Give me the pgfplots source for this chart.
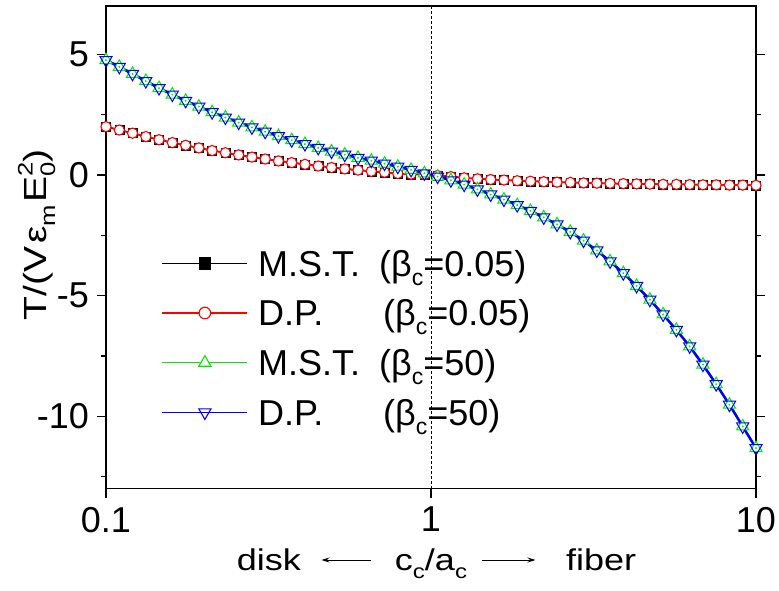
\documentclass[border=0pt]{standalone}
\usepackage{fontspec}
\setmainfont{Liberation Sans}
\usepackage{pgfplots}
\pgfplotsset{compat=1.18}
\usepackage{pgfplotstable}
\usetikzlibrary{arrows.meta}

\definecolor{mstgreen}{RGB}{0,235,0}
\definecolor{dpblue}{RGB}{0,0,255}
\definecolor{dpred}{RGB}{255,0,0}

% sub/superscripts for the 36pt legend and the axis titles
\newcommand\lsub[1]{\raisebox{-9pt}{\fontsize{23}{23}\selectfont #1}}
\newcommand\asub[1]{\raisebox{-8pt}{\fontsize{20}{20}\selectfont #1}}
\newcommand\ysub[1]{\raisebox{-8.5pt}{\fontsize{21}{21}\selectfont #1}}
\newcommand\ysup[1]{\raisebox{14pt}{\fontsize{21}{21}\selectfont #1}}
\newcommand\wide[1]{\scalebox{1.2}[1]{#1}}
\newcommand\arrowL{\tikz[baseline=-10.7pt]\draw[line width=1pt,{Stealth[length=8pt,width=5pt]}-](0,0)--(50pt,0);}
\newcommand\arrowR{\tikz[baseline=-10.7pt]\draw[line width=1pt,-{Stealth[length=8pt,width=5pt]}](0,0)--(53pt,0);}

% torque vs aspect ratio c_c/a_c
% mstA, dpA: beta_c = 0.05 ; mstB, dpB: beta_c = 50
\pgfplotstableread{
x       mstA    dpA     mstB     dpB
0.1000  2.00    2.00    4.76     4.76
0.1099  1.86    1.86    4.48     4.48
0.1207  1.73    1.73    4.19     4.19
0.1326  1.59    1.59    3.89     3.89
0.1456  1.46    1.46    3.60     3.60
0.1600  1.34    1.34    3.33     3.33
0.1758  1.23    1.23    3.07     3.07
0.1931  1.12    1.12    2.83     2.83
0.2121  1.01    1.01    2.60     2.60
0.2330  0.92    0.92    2.38     2.38
0.2560  0.83    0.83    2.17     2.17
0.2812  0.74    0.74    1.97     1.97
0.3089  0.66    0.66    1.79     1.79
0.3393  0.58    0.58    1.61     1.61
0.3728  0.51    0.51    1.44     1.44
0.4095  0.44    0.44    1.28     1.28
0.4498  0.37    0.37    1.12     1.12
0.4942  0.31    0.31    0.97     0.97
0.5429  0.25    0.25    0.84     0.84
0.5964  0.20    0.20    0.71     0.71
0.6551  0.15    0.15    0.59     0.59
0.7197  0.11    0.11    0.47     0.47
0.7906  0.06    0.06    0.34     0.34
0.8685  0.03    0.03    0.21     0.21
0.9541  0.01    0.01    0.07     0.07
1.0481  -0.02   -0.02   -0.07    -0.07
1.1514  -0.07   -0.07   -0.22    -0.22
1.2649  -0.12   -0.12   -0.40    -0.40
1.3895  -0.16   -0.16   -0.60    -0.60
1.5264  -0.19   -0.19   -0.81    -0.81
1.6768  -0.21   -0.21   -1.02    -1.02
1.8421  -0.24   -0.24   -1.25    -1.25
2.0236  -0.26   -0.26   -1.49    -1.49
2.2230  -0.28   -0.28   -1.76    -1.76
2.4421  -0.30   -0.30   -2.05    -2.05
2.6827  -0.31   -0.31   -2.36    -2.36
2.9471  -0.33   -0.33   -2.72    -2.72
3.2375  -0.34   -0.34   -3.13    -3.13
3.5565  -0.35   -0.35   -3.58    -3.58
3.9069  -0.36   -0.36   -4.07    -4.07
4.2919  -0.37   -0.37   -4.60    -4.60
4.7149  -0.38   -0.38   -5.17    -5.17
5.1795  -0.39   -0.39   -5.78    -5.78
5.6899  -0.39   -0.39   -6.42    -6.42
6.2506  -0.40   -0.40   -7.10    -7.10
6.8665  -0.41   -0.41   -7.86    -7.86
7.5431  -0.41   -0.41   -8.67    -8.67
8.2864  -0.42   -0.42   -9.52    -9.52
9.1030  -0.42   -0.42   -10.42   -10.42
10.000  -0.43   -0.43   -11.32   -11.32
}\torque

\begin{document}
\begin{tikzpicture}
\begin{axis}[
  scale only axis,
  width=650pt, height=482.7pt,
  xmode=log, log basis x=10,
  xmin=0.1, xmax=10, ymin=-13, ymax=7,
  xtick={0.1,1,10}, xticklabels={0.1,1,10},
  minor xtick={},
  ytick={-10,-5,0,5}, yticklabels={-10,-5,0,5},
  minor ytick={-12.5,-7.5,-2.5,2.5},
  xtick pos=left, ytick pos=both,
  tick align=outside,
  major tick length=9pt, minor tick length=5pt,
  every tick/.style={black, line width=1.2pt},
  axis line style={line width=1.5pt},
  tick label style={font=\fontsize{36}{36}\selectfont, inner sep=0pt},
  xticklabel style={yshift=-9pt},
  yticklabel style={xshift=-8pt},
  xlabel={\fontsize{30}{30}\selectfont\wide{disk}\hspace{20pt}\arrowL\hspace{23pt}\wide{c\asub{c}/a\asub{c}}\hspace{15pt}\arrowR\hspace{30pt}\wide{fiber}},
  xlabel style={at={(rel axis cs:0.5,0)}, anchor=base, yshift=-82pt, xshift=5.5pt, inner sep=0pt},
  ylabel={\fontsize{32}{32}\selectfont\scalebox{1.22}[1]{T/(V\hspace{2pt}ε\ysub{m}\hspace{2pt}E\rlap{\ysup{2}}\ysub{0})}},
  ylabel style={at={(rel axis cs:-0.0912,0.526)}, anchor=base, inner sep=0pt},
  legend image code/.code={\draw[mark repeat=2,mark phase=2,#1] plot coordinates {(0pt,0pt) (42.5pt,0pt) (85pt,0pt)};},
  legend cell align=left,
  legend style={at={(rel axis cs:0.0857,0.4945)}, anchor=north west,
    draw=none, fill=none, inner sep=0pt, outer sep=0pt,
    row sep=23.1pt, column sep=10pt,
    font=\fontsize{36}{36}\selectfont,
    nodes={inner sep=0pt, text height=26pt, text depth=0.6pt}},
]
% legend images
\addlegendimage{black, line width=1.4pt, mark=square*, mark size=5.6pt, mark options={solid, fill=black}}
\addlegendentry{\makebox[121pt][l]{M.S.T.}(β\lsub{c}=0.05)}
\addlegendimage{dpred, line width=1.4pt, mark=*, mark size=5.8pt, mark options={solid, draw=dpred, fill=white, line width=1.1pt}}
\addlegendentry{\makebox[125pt][l]{D.P.}(β\lsub{c}=0.05)}
\addlegendimage{mstgreen, line width=1.4pt, mark=triangle*, mark size=7pt, mark options={solid, draw=mstgreen, fill=white, line width=1.1pt}}
\addlegendentry{\makebox[121pt][l]{M.S.T.}(β\lsub{c}=50)}
\addlegendimage{dpblue, line width=1.4pt, mark=triangle, mark size=7pt, mark options={solid, rotate=180, line width=1.1pt}}
\addlegendentry{\makebox[125pt][l]{D.P.}(β\lsub{c}=50)}

% reference line at the sphere c_c = a_c
\addplot[forget plot, black, line width=0.6pt, dash pattern=on 3pt off 2pt] coordinates {(1,-13) (1,7)};

% curves
\addplot[forget plot, black, line width=1.5pt] table[x=x, y=mstA] {\torque};
\addplot[forget plot, dpred, line width=1.5pt] table[x=x, y=dpA] {\torque};
\addplot[forget plot, mstgreen, line width=2pt] table[x=x, y=mstB] {\torque};
\addplot[forget plot, dpblue, line width=2.5pt] table[x=x, y=dpB] {\torque};

% symbols
\addplot[forget plot, only marks, mark=square*, mark size=4.5pt, mark options={black, fill=black}] table[x=x, y=mstA] {\torque};
\addplot[forget plot, only marks, mark=*, mark size=5.1pt, mark options={draw=dpred, fill=white, line width=1.1pt}] table[x=x, y=dpA] {\torque};
\addplot[forget plot, only marks, mark=triangle*, mark size=7pt, mark options={draw=mstgreen, fill=white, line width=1pt}] table[x=x, y=mstB] {\torque};
\addplot[forget plot, only marks, mark=*, mark size=0.7pt, mark options={mstgreen}] table[x=x, y=mstB] {\torque};
\addplot[forget plot, only marks, mark=triangle, mark size=7pt, mark options={dpblue, rotate=180, line width=1pt}] table[x=x, y=dpB] {\torque};

\coordinate (bbsw) at (rel axis cs:0,0);
\coordinate (bbne) at (rel axis cs:1,1);
\end{axis}
\pgfresetboundingbox
\path ([shift={(-106pt,-101.3pt)}]bbsw) rectangle ([shift={(23pt,6pt)}]bbne);
\end{tikzpicture}
\end{document}
